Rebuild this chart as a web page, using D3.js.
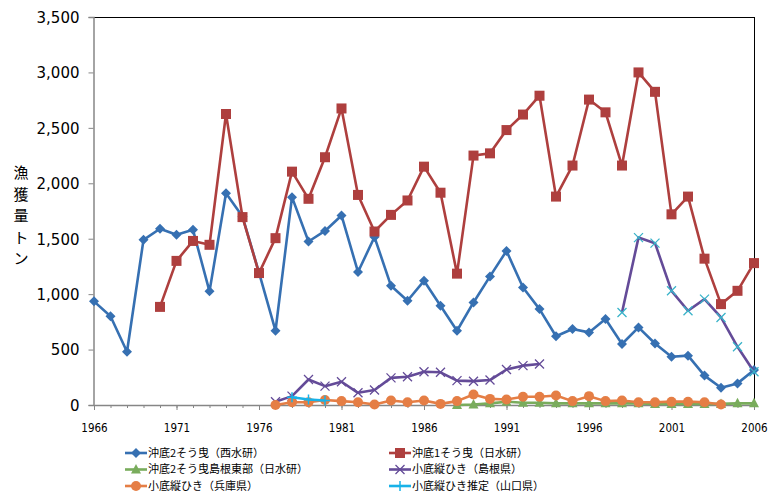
<!DOCTYPE html>
<html><head><meta charset="utf-8">
<script src="https://cdn.jsdelivr.net/npm/d3@7"></script>
<style>
html,body{margin:0;padding:0;background:#fff;}
svg{display:block;}
</style></head>
<body>
<svg id="chart" width="776" height="494"></svg>
<script>
// ---------- DATA ----------
const years = [1966,1967,1968,1969,1970,1971,1972,1973,1974,1975,1976,1977,1978,1979,1980,1981,1982,1983,1984,1985,1986,1987,1988,1989,1990,1991,1992,1993,1994,1995,1996,1997,1998,1999,2000,2001,2002,2003,2004,2005,2006];
const xTickLabels = [1966,1971,1976,1981,1986,1991,1996,2001,2006];
const yTicks = [0,500,1000,1500,2000,2500,3000,3500];

const okisoko2Seisuiken = [935,800,480,1490,1590,1535,1580,1025,1910,1700,1195,670,1875,1475,1570,1710,1200,1515,1075,940,1120,895,670,925,1160,1390,1060,865,620,685,655,775,550,700,555,435,445,265,155,195,315];
const okisoko1Nissuiken = [null,null,null,null,885,1300,1480,1445,2625,1695,1190,1505,2105,1860,2235,2675,1895,1565,1715,1845,2150,1915,1185,2250,2270,2480,2620,2790,1880,2160,2755,2640,2160,3000,2825,1720,1880,1320,910,1030,1280];
const okisoko2Shimane = [null,null,null,null,null,null,null,null,null,null,null,null,null,null,null,null,null,null,null,null,null,null,0,5,15,30,20,20,15,15,15,15,15,15,10,10,10,10,10,15,15];
const kosokoShimane = [null,null,null,null,null,null,null,null,null,null,null,30,80,230,170,210,110,135,245,255,300,295,220,215,225,320,355,370,null,null,null,null,null,null,null,null,null,null,null,null,null];
const kosokoShimaneLate = [null,null,null,null,null,null,null,null,null,null,null,null,null,null,null,null,null,null,null,null,null,null,null,null,null,null,null,null,null,null,null,null,835,1510,1460,1030,850,955,790,525,300];
const kosokoHyogo = [null,null,null,null,null,null,null,null,null,null,null,0,25,25,45,35,25,5,40,25,40,10,35,95,55,50,75,75,85,35,80,35,40,25,25,30,30,25,5,null,null];
const kosokoYamaguchi = [null,null,null,null,null,null,null,null,null,null,null,null,70,50,40,null,null,null,null,null,null,null,null,null,null,null,null,null,null,null,null,null,null,null,null,null,null,null,null,null,null];

const seriesNames = ["沖底2そう曳（西水研）","沖底1そう曳（日水研）","沖底2そう曳島根東部（日水研）","小底縦ひき（島根県）","小底縦ひき（兵庫県）","小底縦ひき推定（山口県）"];
const yTitle = "漁獲量トン";

// ---------- STYLE ----------
const C = {
  blue:"#3670B2", red:"#AE3F3E", green:"#79AC5C", purple:"#644B98",
  orange:"#E57E45", cyan:"#19B2E8", teal:"#39B3C9"
};

const svg = d3.select("#chart");
const m = {l:94, r:754, t:17, b:405};
const x = d3.scalePoint().domain(years).range([m.l, m.r]);
const y = d3.scaleLinear().domain([0,3500]).range([m.b, m.t]);

// frame top/right
svg.append("line").attr("x1",m.l).attr("x2",m.r).attr("y1",m.t+0.5).attr("y2",m.t+0.5).attr("stroke","#000").attr("stroke-width",1);
svg.append("line").attr("x1",m.r+0.5).attr("x2",m.r+0.5).attr("y1",m.t).attr("y2",m.b).attr("stroke","#000").attr("stroke-width",1);

// Y axis
const yAxis = d3.axisLeft(y).tickValues(yTicks).tickSize(5).tickFormat(d3.format(","));
const gy = svg.append("g").attr("transform",`translate(${m.l-0.5},0)`).call(yAxis);
gy.select(".domain").attr("stroke","#868686").attr("stroke-width",1.5);
gy.selectAll(".tick line").attr("stroke","#868686");
gy.selectAll(".tick text").attr("x",-14).attr("dy","0.36em")
  .style("font-family","'DejaVu Sans', sans-serif").style("font-size","15px").attr("fill","#000");

// X axis: minor ticks every year, major every 5
const gxMinor = svg.append("g").attr("transform",`translate(0,${m.b})`)
  .call(d3.axisBottom(x).tickValues(years).tickSize(3).tickFormat(""));
gxMinor.selectAll(".tick line").attr("stroke","#868686");
gxMinor.select(".domain").remove();
const gx = svg.append("g").attr("transform",`translate(0,${m.b})`)
  .call(d3.axisBottom(x).tickValues(xTickLabels).tickSize(5).tickSizeOuter(0));
gx.select(".domain").attr("stroke","#868686").attr("stroke-width",1.5);
gx.selectAll(".tick line").attr("stroke","#868686");
gx.selectAll(".tick text").attr("y",19).attr("dy","0.71em")
  .style("font-family","'DejaVu Sans Condensed','DejaVu Sans', sans-serif").style("font-size","11.5px").attr("fill","#000");

// Y title (vertical stacked)
const yt = svg.append("text").attr("x",21).attr("y",172)
  .style("font-family","'Noto Sans CJK JP', sans-serif").style("font-size","15px").attr("text-anchor","middle");
yTitle.split("").forEach((ch,i)=>{
  yt.append("tspan").attr("x",21).attr("y",178 + i*21.5).text(ch);
});

// ---------- helpers ----------
const lineGen = d3.line().defined(d=>d.v!==null).x(d=>x(d.yr)).y(d=>y(d.v));
function pts(arr){ return years.map((yr,i)=>({yr, v:arr[i]})); }

function marker(g, type, color, cx, cy){
  if(type==="diamond"){
    g.append("path").attr("d",`M${cx},${cy-5}L${cx+5},${cy}L${cx},${cy+5}L${cx-5},${cy}Z`).attr("fill",color);
  } else if(type==="square"){
    g.append("rect").attr("x",cx-5).attr("y",cy-5).attr("width",10).attr("height",10).attr("fill",color);
  } else if(type==="triangle"){
    g.append("path").attr("d",`M${cx},${cy-5.5}L${cx+5},${cy+4}L${cx-5},${cy+4}Z`).attr("fill",color);
  } else if(type==="circle"){
    g.append("circle").attr("cx",cx).attr("cy",cy).attr("r",5).attr("fill",color);
  } else if(type==="x"){
    g.append("path").attr("d",`M${cx-4.5},${cy-4.5}L${cx+4.5},${cy+4.5}M${cx-4.5},${cy+4.5}L${cx+4.5},${cy-4.5}`).attr("stroke",color).attr("stroke-width",1.3).attr("fill","none");
  } else if(type==="plus"){
    g.append("path").attr("d",`M${cx-5},${cy}L${cx+5},${cy}M${cx},${cy-5}L${cx},${cy+5}`).attr("stroke",color).attr("stroke-width",1.5).attr("fill","none");
  }
}

function drawSeries(arr, lineColor, mType, mColor){
  const g = svg.append("g");
  const d = pts(arr);
  g.append("path").datum(d).attr("d",lineGen).attr("fill","none")
    .attr("stroke",lineColor).attr("stroke-width",2.6).attr("stroke-linejoin","round");
  d.filter(p=>p.v!==null).forEach(p=>marker(g,mType,mColor,x(p.yr),y(p.v)));
}

drawSeries(okisoko2Seisuiken, C.blue, "diamond", C.blue);
drawSeries(okisoko1Nissuiken, C.red, "square", C.red);
drawSeries(okisoko2Shimane, C.green, "triangle", C.green);
drawSeries(kosokoShimane, C.purple, "x", C.purple);
drawSeries(kosokoShimaneLate, C.purple, "x", C.teal);
drawSeries(kosokoHyogo, C.orange, "circle", C.orange);
drawSeries(kosokoYamaguchi, C.cyan, "plus", C.cyan);

// ---------- legend ----------
const legendItems = [
  {name:seriesNames[0], color:C.blue, m:"diamond", col:0, row:0},
  {name:seriesNames[1], color:C.red, m:"square", col:1, row:0},
  {name:seriesNames[2], color:C.green, m:"triangle", col:0, row:1},
  {name:seriesNames[3], color:C.purple, m:"x", col:1, row:1},
  {name:seriesNames[4], color:C.orange, m:"circle", col:0, row:2},
  {name:seriesNames[5], color:C.cyan, m:"plus", col:1, row:2}
];
const colX = [125, 389];
const rowY = [453, 469.5, 486];
legendItems.forEach(it=>{
  const g = svg.append("g");
  const x0 = colX[it.col], yy = rowY[it.row];
  g.append("line").attr("x1",x0).attr("x2",x0+22).attr("y1",yy).attr("y2",yy)
    .attr("stroke",it.color).attr("stroke-width",2.6);
  marker(g, it.m, it.color, x0+11, yy);
  g.append("text").attr("x",x0+23).attr("y",yy).attr("dy","0.35em")
    .style("font-family","'Noto Sans CJK JP', sans-serif").style("font-size","11px").attr("fill","#000")
    .text(it.name);
});
</script>
</body></html>
